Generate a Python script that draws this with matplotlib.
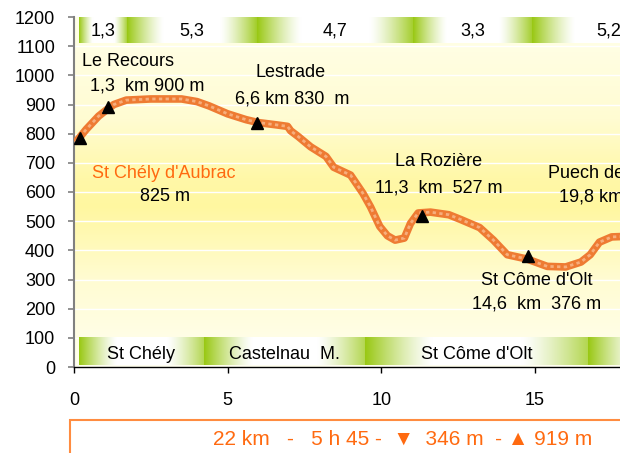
import numpy as np
import matplotlib
matplotlib.use("Agg")
import matplotlib.pyplot as plt
from matplotlib.colors import to_rgb
from matplotlib.patches import Rectangle

plt.rcParams['font.family'] = ['Liberation Sans', 'DejaVu Sans']

# Profil altimetrique (km, m)
dist = [0.05, 0.4, 0.8, 1.1, 1.3, 1.7, 2.5, 3.5, 4.0, 4.4, 5.0, 5.6, 6.0, 6.6,
        6.95, 7.05, 7.3, 7.7, 8.2, 8.45, 9.0, 9.4, 9.65, 9.95, 10.2, 10.45,
        10.75, 10.95, 11.2, 11.6, 12.2, 12.6, 13.2, 13.65, 14.1, 14.75, 15.4,
        16.0, 16.5, 16.8, 17.1, 17.5, 18.0]
alt = [770, 815, 860, 885, 900, 915, 919, 919, 910, 895, 868, 848, 838, 830,
       825, 810, 790, 755, 722, 685, 658, 596, 549, 482, 450, 435,
       442, 492, 528, 531, 522, 505, 478, 435, 385, 370, 345,
       343, 360, 385, 428, 446, 448]

# Etapes (triangles)
etape_km = [0.18, 1.11, 5.94, 11.31, 14.76]
etape_alt = [785, 891, 837, 518, 381]

# Bandeau du haut : distances entre etapes
haut_bornes = [0.16, 1.73, 5.96, 11.04, 14.92, 19.87]
haut_labels = ["1,3", "5,3", "4,7", "3,3", "5,2"]

# Bandeau du bas : communes
bas_bornes = [0.16, 4.23, 9.48, 16.74, 22.0]
bas_labels = ["St Chély", "Castelnau  M.", "St Côme d'Olt", ""]

orange = '#FF6A10'
vert = np.array(to_rgb('#99C814'))
blanc = np.array([1.0, 1.0, 1.0])


def bandeau(n=200, fort_g=1.0, fort_d=0.8, larg=0.3):
    t = np.linspace(0, 1, n)
    g = np.clip(1 - t / larg, 0, 1) ** 1.3 * fort_g
    d = np.clip(1 - (1 - t) / larg, 0, 1) ** 1.3 * fort_d
    w = np.maximum(g, d)
    rgb = blanc[None, :] * (1 - w[:, None]) + vert[None, :] * w[:, None]
    return rgb[None, :, :]


fig = plt.figure(figsize=(6.2, 4.53), dpi=100)
ax = fig.add_axes([74 / 620, 86 / 453, 676 / 620, 350 / 453])
ax.set_xlim(0, 22)
ax.set_ylim(0, 1200)

# fond degrade jaune
yy = np.linspace(0, 1200, 300)
stops_y = [0, 300, 550, 650, 850, 1200]
stops_c = ['#FFFFF0', '#FFFCD2', '#FFF7A0', '#FFF8A8', '#FFFCD2', '#FFFFEA']
cols = np.array([to_rgb(c) for c in stops_c])
grad = np.stack([np.interp(yy, stops_y, cols[:, k]) for k in range(3)], axis=-1)
ax.imshow(grad[:, None, :], extent=[0, 22, 0, 1200], origin='lower',
          aspect='auto', zorder=0)

for v in range(100, 1200, 100):
    ax.axhline(v, color='white', lw=1, zorder=1)

# bandeaux
for i, lab in enumerate(haut_labels):
    x0, x1 = haut_bornes[i], haut_bornes[i + 1]
    ax.imshow(bandeau(fort_g=1.0, fort_d=0.9, larg=0.28), extent=[x0, x1, 1110, 1200],
              aspect='auto', zorder=2)
    ax.text((x0 + x1) / 2, 1152, lab, ha='center', va='center', fontsize=13, zorder=3)

for i, lab in enumerate(bas_labels):
    x0, x1 = bas_bornes[i], bas_bornes[i + 1]
    ax.imshow(bandeau(fort_g=1.0, fort_d=0.75, larg=0.3), extent=[x0, x1, 7, 100],
              aspect='auto', zorder=2)
    ax.text((x0 + x1) / 2, 43, lab, ha='center', va='center', fontsize=13, zorder=3)

# profil
ax.plot(dist, alt, color='#EE7B33', lw=5.5, solid_capstyle='butt', zorder=4)
ax.plot(dist, alt, color='#F6AE7C', lw=2, ls=(0, (1.2, 1.2)), zorder=5)
ax.plot(etape_km, etape_alt, '^', color='black', ms=9, zorder=6)

# textes
fs = 13
ax.text(1.76, 1046, "Le Recours", ha='center', va='center', fontsize=fs)
ax.text(2.38, 963, "1,3  km 900 m", ha='center', va='center', fontsize=fs)
ax.text(7.05, 1011, "Lestrade", ha='center', va='center', fontsize=fs)
ax.text(7.1, 919, "6,6 km 830  m", ha='center', va='center', fontsize=fs)
ax.text(2.93, 665, "St Chély d'Aubrac", ha='center', va='center', fontsize=fs, color=orange)
ax.text(2.96, 583, "825 m", ha='center', va='center', fontsize=fs)
ax.text(11.86, 703, "La Rozière", ha='center', va='center', fontsize=fs)
ax.text(11.86, 614, "11,3  km  527 m", ha='center', va='center', fontsize=fs)
ax.text(15.41, 665, "Puech de Vermus", ha='left', va='center', fontsize=fs)
ax.text(15.77, 583, "19,8 km", ha='left', va='center', fontsize=fs)
ax.text(15.05, 295, "St Côme d'Olt", ha='center', va='center', fontsize=fs)
ax.text(15.05, 216, "14,6  km  376 m", ha='center', va='center', fontsize=fs)

# axes
for s in ['top', 'right']:
    ax.spines[s].set_visible(False)
ax.spines['left'].set_color('#808080')
ax.spines['left'].set_linewidth(1.5)
ax.spines['bottom'].set_color('black')
ax.spines['bottom'].set_linewidth(1)
ax.set_yticks(range(0, 1300, 100))
ax.set_xticks([0, 5, 10, 15])
ax.tick_params(axis='y', colors='#808080', labelcolor='black', length=4.5,
               width=1.2, pad=9, labelsize=13)
ax.tick_params(axis='x', length=4, width=1, pad=14, labelsize=13)

# cadre du bas
fig.patches.append(Rectangle((70 / 620, -0.1), 1.0, 0.1 + 33 / 453,
                             transform=fig.transFigure, fill=False,
                             edgecolor='#FF8C40', lw=1.5))
fig.text(403 / 620, 14 / 453, "22 km   -   5 h 45 -  ▼  346 m  - ▲ 919 m",
         ha='center', va='center', fontsize=15, color=orange)

fig.savefig('out.png', dpi=100)
